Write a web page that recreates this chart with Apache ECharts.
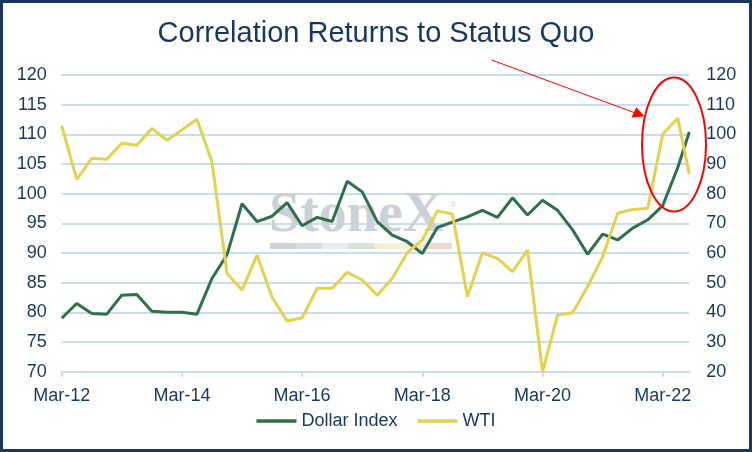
<!DOCTYPE html>
<html>
<head>
<meta charset="utf-8">
<script src="https://cdn.jsdelivr.net/npm/echarts@6/dist/echarts.min.js"></script>
<style>
html,body{margin:0;padding:0;background:#fff;}
#chart{width:752px;height:452px;}
</style>
</head>
<body>
<div id="chart"></div>
<script>
// Quarterly observation dates (last one is a partial-quarter reading)
var dates = [
 '2012-03-01','2012-06-01','2012-09-01','2012-12-01',
 '2013-03-01','2013-06-01','2013-09-01','2013-12-01',
 '2014-03-01','2014-06-01','2014-09-01','2014-12-01',
 '2015-03-01','2015-06-01','2015-09-01','2015-12-01',
 '2016-03-01','2016-06-01','2016-09-01','2016-12-01',
 '2017-03-01','2017-06-01','2017-09-01','2017-12-01',
 '2018-03-01','2018-06-01','2018-09-01','2018-12-01',
 '2019-03-01','2019-06-01','2019-09-01','2019-12-01',
 '2020-03-01','2020-06-01','2020-09-01','2020-12-01',
 '2021-03-01','2021-06-01','2021-09-01','2021-12-01',
 '2022-03-01','2022-06-01','2022-08-10'
];
var dollarIndex = [
 79.0, 81.5, 79.8, 79.7,
 82.9, 83.0, 80.2, 80.0,
 80.0, 79.7, 85.7, 89.7,
 98.3, 95.3, 96.2, 98.5,
 94.6, 96.0, 95.3, 102.1,
 100.3, 95.3, 93.0, 91.9,
 89.9, 94.3, 95.2, 96.1,
 97.2, 96.0, 99.3, 96.4,
 98.9, 97.2, 93.9, 89.8,
 93.2, 92.2, 94.2, 95.6,
 98.0, 104.4, 110.4
];
var wti = [
 102.9, 84.8, 91.9, 91.6,
 97.0, 96.3, 102.0, 98.0,
 101.5, 105.1, 90.8, 53.1,
 47.5, 59.3, 45.1, 37.1,
 38.2, 48.1, 48.1, 53.5,
 50.9, 45.8, 51.5, 60.1,
 64.4, 74.2, 73.1, 45.3,
 60.1, 58.2, 53.7, 61.0,
 20.0, 39.1, 39.9, 48.7,
 58.8, 73.4, 74.7, 75.1,
 100.1, 105.4, 86.6
];
var xTickMonths = [0, 24, 48, 72, 96, 120];
var monthNames = ['Jan','Feb','Mar','Apr','May','Jun','Jul','Aug','Sep','Oct','Nov','Dec'];
var seriesNames = ['Dollar Index', 'WTI'];
var titleText = 'Correlation Returns to Status Quo';

function monthOffset(s) {
  var p = s.split('-').map(Number);
  return (p[0] - 2012) * 12 + (p[1] - 3) + (p[2] - 1) / 30;
}
var xs = dates.map(monthOffset);
var dollarData = xs.map(function (x, i) { return [x, dollarIndex[i]]; });
var wtiData = xs.map(function (x, i) { return [x, wti[i]]; });

function fmtMonth(v) {
  var total = Math.round(v) + 2; // months since Jan-2012
  var y = 2012 + Math.floor(total / 12);
  var m = total % 12;
  return monthNames[m] + '-' + String(y).slice(2);
}

var navy = '#17375E';
var gridColor = '#C6DDF2';
var fontFam = 'Liberation Sans, Arial, sans-serif';

var chart = echarts.init(document.getElementById('chart'), null, {renderer: 'canvas'});
chart.setOption({
  animation: false,
  backgroundColor: '#ffffff',
  textStyle: {fontFamily: fontFam},
  title: {
    text: titleText,
    left: 'center',
    top: 14,
    textStyle: {color: navy, fontSize: 29, fontWeight: 'normal', fontFamily: fontFam}
  },
  legend: {
    data: seriesNames,
    left: 'center',
    top: 412,
    padding: 0,
    itemWidth: 40,
    itemHeight: 3.5,
    itemGap: 20,
    icon: 'rect',
    textStyle: {color: navy, fontSize: 18, fontFamily: fontFam}
  },
  grid: {left: 61.7, right: 62.7, top: 75, bottom: 80.3, containLabel: false},
  xAxis: {
    type: 'value',
    min: 0,
    max: xs[xs.length - 1],
    interval: 24,
    splitLine: {show: false},
    axisLine: {show: true, lineStyle: {color: gridColor, width: 2}},
    axisTick: {show: true, length: 5, lineStyle: {color: gridColor, width: 2}, customValues: xTickMonths},
    axisLabel: {
      color: navy, fontSize: 18, margin: 15, fontFamily: fontFam,
      customValues: xTickMonths,
      formatter: function (v) { return fmtMonth(v); }
    }
  },
  yAxis: [
    {
      type: 'value', min: 70, max: 120, interval: 5,
      axisLine: {show: false}, axisTick: {show: false},
      splitLine: {show: true, lineStyle: {color: gridColor, width: 2}},
      axisLabel: {color: navy, fontSize: 18, margin: 15, fontFamily: fontFam}
    },
    {
      type: 'value', min: 20, max: 120, interval: 10, position: 'right',
      axisLine: {show: false}, axisTick: {show: false},
      splitLine: {show: false},
      axisLabel: {color: navy, fontSize: 18, margin: 17, fontFamily: fontFam}
    }
  ],
  series: [
    {
      name: seriesNames[0], type: 'line', yAxisIndex: 0, data: dollarData,
      showSymbol: false, symbol: 'none', z: 3,
      color: '#2E7149',
      lineStyle: {color: '#2E7149', width: 3}
    },
    {
      name: seriesNames[1], type: 'line', yAxisIndex: 1, data: wtiData,
      showSymbol: false, symbol: 'none', z: 4,
      color: '#E3D24C',
      lineStyle: {color: '#E3D24C', width: 3}
    }
  ],
  graphic: [
    // outer border
    {type: 'rect', z: 100, silent: true,
     shape: {x: 1.5, y: 1.5, width: 749, height: 449},
     style: {fill: 'none', stroke: navy, lineWidth: 3}},
    // watermark
    {type: 'text', z: 1, silent: true, left: 269, top: 189,
     style: {text: 'StoneX', font: 'bold 56px "Liberation Serif", "DejaVu Serif", serif', fill: '#CBD1D8'}},
    {type: 'text', z: 1, silent: true, left: 450, top: 200,
     style: {text: '\u00AE', font: '9px "Liberation Serif", serif', fill: '#CBD1D8'}},
    {type: 'group', z: 1, silent: true, left: 270, top: 243, children: [
      {type: 'rect', shape: {x: 0, y: 0, width: 26, height: 6}, style: {fill: '#CDD2D8'}},
      {type: 'rect', shape: {x: 26, y: 0, width: 26, height: 6}, style: {fill: '#D5DDE5'}},
      {type: 'rect', shape: {x: 52, y: 0, width: 26, height: 6}, style: {fill: '#E4ECF4'}},
      {type: 'rect', shape: {x: 78, y: 0, width: 26, height: 6}, style: {fill: '#D5E6D9'}},
      {type: 'rect', shape: {x: 104, y: 0, width: 26, height: 6}, style: {fill: '#F5EFD3'}},
      {type: 'rect', shape: {x: 130, y: 0, width: 26, height: 6}, style: {fill: '#F7EDD7'}},
      {type: 'rect', shape: {x: 156, y: 0, width: 26, height: 6}, style: {fill: '#F3D6D6'}}
    ]},
    // red ellipse annotation
    {type: 'ellipse', z: 50, silent: true,
     shape: {cx: 674, cy: 144.5, rx: 32, ry: 67},
     style: {fill: 'none', stroke: '#FF0000', lineWidth: 2}},
    // red arrow
    {type: 'line', z: 50, silent: true,
     shape: {x1: 491.7, y1: 60, x2: 634, y2: 112.5},
     style: {stroke: '#FF0000', lineWidth: 1}},
    {type: 'polygon', z: 50, silent: true,
     shape: {points: [[644.5, 116.3], [631.5, 117.5], [636.2, 107.3]]},
     style: {fill: '#FF0000'}}
  ]
});
</script>
</body>
</html>
